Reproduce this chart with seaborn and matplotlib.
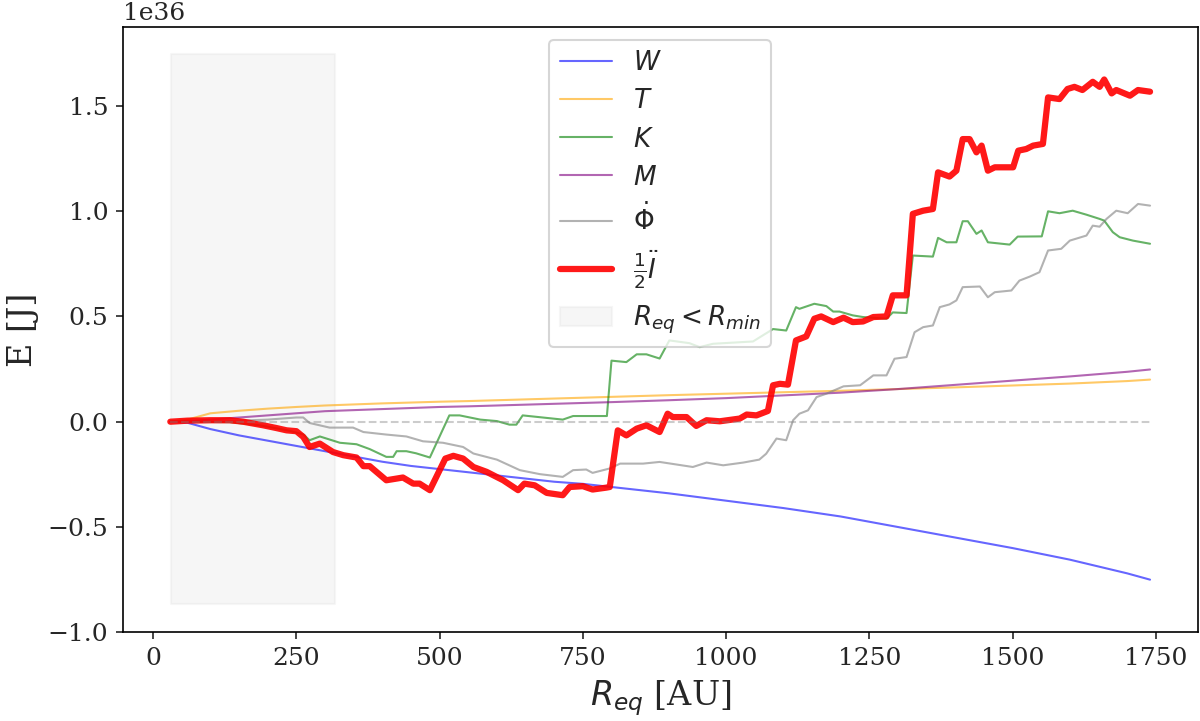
import numpy as np
import matplotlib
matplotlib.use("Agg")
import matplotlib.pyplot as plt
import seaborn as sns

SCALE = 1e36

# smooth terms (values in units of 1e36 J)
x_smooth = [30, 60, 80, 100, 150, 200, 250, 300, 350, 400, 450, 500, 550, 600, 650, 700, 750, 800,
            900, 1000, 1100, 1200, 1300, 1400, 1500, 1600, 1700, 1740]
W = [0.0, -0.005, -0.02, -0.035, -0.065, -0.09, -0.115, -0.14, -0.165, -0.19, -0.21, -0.225, -0.24,
     -0.255, -0.27, -0.285, -0.295, -0.31, -0.34, -0.375, -0.41, -0.45, -0.50, -0.55, -0.60, -0.655,
     -0.72, -0.75]
T = [0.0, 0.01, 0.025, 0.04, 0.052, 0.062, 0.07, 0.077, 0.082, 0.087, 0.091, 0.095, 0.098, 0.102,
     0.106, 0.11, 0.114, 0.118, 0.126, 0.133, 0.14, 0.147, 0.155, 0.163, 0.172, 0.181, 0.193, 0.2]
M = [0.0, 0.003, 0.006, 0.01, 0.02, 0.03, 0.04, 0.05, 0.055, 0.06, 0.065, 0.07, 0.073, 0.077,
     0.081, 0.085, 0.089, 0.093, 0.102, 0.112, 0.125, 0.138, 0.155, 0.175, 0.195, 0.215, 0.237, 0.248]

x_K = [30, 60, 134, 186, 233, 262, 273, 291, 326, 355, 378, 407, 419, 425, 442, 459, 483, 517, 535,
       571, 600, 622, 634, 645, 715, 733, 792, 800, 826, 844, 861, 884, 901, 936, 954, 977, 1047,
       1082, 1105, 1122, 1128, 1154, 1175, 1187, 1198, 1221, 1239, 1280, 1291, 1315, 1326, 1361,
       1370, 1385, 1402, 1413, 1422, 1437, 1446, 1457, 1495, 1509, 1551, 1562, 1582, 1605, 1629,
       1652, 1660, 1675, 1687, 1710, 1740]
K = [0.0, 0.0, -0.002, -0.017, -0.04, -0.06, -0.088, -0.07, -0.1, -0.107, -0.13, -0.167, -0.167,
     -0.14, -0.14, -0.15, -0.17, 0.03, 0.03, 0.01, 0.003, -0.014, -0.014, 0.03, 0.01, 0.027, 0.027,
     0.29, 0.283, 0.32, 0.32, 0.3, 0.386, 0.373, 0.354, 0.37, 0.381, 0.44, 0.433, 0.544, 0.536,
     0.56, 0.549, 0.523, 0.523, 0.505, 0.497, 0.489, 0.519, 0.516, 0.789, 0.784, 0.873, 0.852,
     0.852, 0.952, 0.952, 0.892, 0.908, 0.852, 0.841, 0.879, 0.88, 0.999, 0.99, 1.002, 0.983,
     0.963, 0.955, 0.9, 0.876, 0.86, 0.845]

x_P = [30, 100, 200, 250, 262, 273, 308, 349, 367, 407, 442, 471, 506, 541, 559, 600, 640, 675,
       715, 733, 756, 767, 797, 815, 855, 884, 942, 966, 995, 1030, 1058, 1070, 1088, 1105, 1117,
       1128, 1143, 1158, 1175, 1205, 1234, 1257, 1280, 1294, 1315, 1329, 1344, 1361, 1373, 1390,
       1402, 1413, 1443, 1457, 1469, 1498, 1512, 1530, 1547, 1562, 1585, 1600, 1629, 1640, 1652,
       1664, 1681, 1701, 1719, 1740]
Phi = [0.0, 0.0, 0.01, 0.02, 0.02, -0.006, -0.028, -0.028, -0.049, -0.061, -0.07, -0.093, -0.1,
       -0.12, -0.151, -0.18, -0.23, -0.249, -0.262, -0.23, -0.227, -0.243, -0.222, -0.199, -0.199,
       -0.191, -0.215, -0.194, -0.207, -0.194, -0.18, -0.152, -0.08, -0.088, 0.007, 0.038, 0.054,
       0.117, 0.133, 0.168, 0.173, 0.22, 0.22, 0.299, 0.307, 0.425, 0.449, 0.457, 0.544, 0.557,
       0.576, 0.639, 0.642, 0.591, 0.615, 0.623, 0.67, 0.689, 0.71, 0.813, 0.821, 0.86, 0.884,
       0.931, 0.926, 0.963, 1.002, 0.99, 1.034, 1.026]

x_I = [30, 60, 100, 134, 157, 192, 215, 233, 250, 262, 273, 291, 314, 332, 355, 367, 378, 407, 425,
       436, 454, 465, 483, 510, 524, 541, 559, 582, 611, 637, 648, 666, 687, 715, 727, 750, 767,
       791, 797, 811, 826, 844, 861, 884, 898, 907, 931, 948, 966, 989, 1024, 1036, 1053, 1073,
       1082, 1094, 1108, 1122, 1140, 1154, 1166, 1187, 1205, 1221, 1239, 1257, 1280, 1291, 1315,
       1326, 1344, 1361, 1370, 1390, 1402, 1413, 1425, 1437, 1446, 1457, 1469, 1501, 1510, 1524,
       1536, 1553, 1562, 1582, 1596, 1608, 1622, 1640, 1652, 1660, 1673, 1681, 1705, 1719, 1740]
I_half = [0.0, 0.005, 0.007, 0.007, 0.0, -0.017, -0.03, -0.041, -0.045, -0.072, -0.12, -0.104,
          -0.144, -0.159, -0.17, -0.211, -0.211, -0.278, -0.27, -0.265, -0.294, -0.294, -0.325,
          -0.175, -0.162, -0.175, -0.215, -0.238, -0.278, -0.325, -0.294, -0.302, -0.338, -0.349,
          -0.31, -0.306, -0.322, -0.313, -0.31, -0.041, -0.065, -0.033, -0.017, -0.049, 0.038,
          0.022, 0.022, -0.02, 0.007, 0.002, 0.015, 0.034, 0.03, 0.051, 0.173, 0.18, 0.176, 0.386,
          0.405, 0.489, 0.5, 0.473, 0.494, 0.473, 0.476, 0.497, 0.5, 0.6, 0.6, 0.987, 1.002, 1.01,
          1.184, 1.164, 1.192, 1.342, 1.342, 1.279, 1.311, 1.192, 1.208, 1.208, 1.287, 1.295, 1.311,
          1.319, 1.54, 1.532, 1.58, 1.59, 1.575, 1.614, 1.59, 1.625, 1.559, 1.575, 1.548, 1.575,
          1.567]

R_min_region = [31, 318]
region_y = [-0.866, 1.746]

labels = [r"$W$", r"$T$", r"$K$", r"$M$", r"$\dot{\Phi}$", r"$\frac{1}{2}\ddot{I}$",
          r"$R_{eq} < R_{min}$"]

sns.set_style("ticks")
plt.rcParams["font.family"] = ["DejaVu Serif"]
plt.rcParams["mathtext.fontset"] = "dejavusans"
plt.rcParams["xtick.direction"] = "out"
plt.rcParams["ytick.direction"] = "out"

fig, ax = plt.subplots(figsize=(8, 4.807), dpi=150)
fig.subplots_adjust(left=0.1023, right=0.998, top=0.963, bottom=0.123)

s = lambda v: np.asarray(v) * SCALE

sns.lineplot(x=x_smooth, y=s(W), ax=ax, color="blue", alpha=0.6, lw=1, label=labels[0], estimator=None)
sns.lineplot(x=x_smooth, y=s(T), ax=ax, color="orange", alpha=0.6, lw=1, label=labels[1], estimator=None)
sns.lineplot(x=x_K, y=s(K), ax=ax, color="green", alpha=0.6, lw=1, label=labels[2], estimator=None)
sns.lineplot(x=x_smooth, y=s(M), ax=ax, color="purple", alpha=0.6, lw=1, label=labels[3], estimator=None)
sns.lineplot(x=x_P, y=s(Phi), ax=ax, color="gray", alpha=0.6, lw=1, label=labels[4], estimator=None)
sns.lineplot(x=x_I, y=s(I_half), ax=ax, color="red", alpha=0.9, lw=3, label=labels[5], estimator=None)
ax.fill_between(R_min_region, s(region_y[0]), s(region_y[1]), color="lightgray", alpha=0.2,
                label=labels[6])
ax.hlines(0, x_smooth[0], x_smooth[-1], colors="gray", linestyles="--", lw=1, alpha=0.4)

ax.set_xlim(-53, 1823)
ax.set_ylim(-1.0e36, 1.876e36)
ax.set_xticks([0, 250, 500, 750, 1000, 1250, 1500, 1750])
ax.set_yticks(np.array([-1.0, -0.5, 0.0, 0.5, 1.0, 1.5]) * SCALE)
ax.tick_params(labelsize=12)
ax.yaxis.get_offset_text().set_fontsize(12)
for sp in ax.spines.values():
    sp.set_visible(True)
    sp.set_color("black")

ax.set_xlabel(r"$R_{eq}$ [AU]", fontsize=16)
ax.set_ylabel("E [J]", fontsize=16)
ax.legend(loc="upper center", fontsize=12.6)

fig.savefig("out.png", dpi=150)
